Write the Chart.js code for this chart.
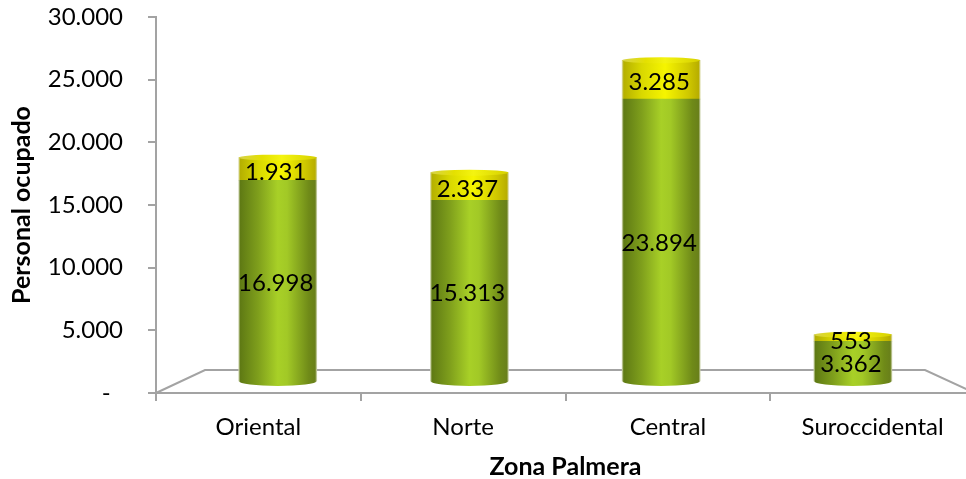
<!DOCTYPE html>
<html><head><meta charset="utf-8">
<style>html,body{margin:0;padding:0;background:#fff;overflow:hidden}#w{width:966px;height:479px;overflow:hidden}</style>
<script src="https://cdn.jsdelivr.net/npm/chart.js@4"></script></head>
<body><div id="w"><canvas id="c" width="975" height="479"></canvas></div>
<script>
const categories = ['Oriental','Norte','Central','Suroccidental'];
const lowerValues = [16998,15313,23894,3362];
const upperValues = [1931,2337,3285,553];
const seriesNames = ['Personal permanente','Personal temporal'];
const yTicks = [0,5000,10000,15000,20000,25000,30000];
const yTitle = 'Personal ocupado';
const xTitle = 'Zona Palmera';

const FONT = 'Lato, Carlito, sans-serif';
const GREY = '#a3a3a3';
const BAR_W = 78, RY = 5;
const fmt = v => v === 0 ? '-  ' : String(v).replace(/\B(?=(\d{3})+$)/g, '.');

function grad(ctx, x, w, stops){
  const g = ctx.createLinearGradient(x - w/2, 0, x + w/2, 0);
  stops.forEach(s => g.addColorStop(s[0], s[1]));
  return g;
}
const greenStops = [[0,'#c9d0a8'],[0.02,'#5f7a14'],[0.25,'#7f9f1c'],[0.5,'#a8d027'],[0.62,'#a2c926'],[0.9,'#6f8a18'],[0.98,'#69801a'],[1,'#c9d0a8']];
const yellowStops = [[0,'#d8d8a0'],[0.02,'#b5b000'],[0.25,'#d9d800'],[0.55,'#f6f500'],[0.85,'#cfc800'],[0.98,'#b8ae00'],[1,'#d8d8a0']];
const capStops = [[0,'#d6d24a'],[0.3,'#e4e000'],[0.55,'#f4f410'],[1,'#d6d000']];

function fill(stops){
  return c => {
    const s = c.chart.scales.x2;
    const px = s && c.dataIndex !== undefined ? s.getPixelForValue(c.dataIndex) : NaN;
    if(!Number.isFinite(px)) return stops[3][1];
    return grad(c.chart.ctx, px, BAR_W, stops);
  };
}

const floorPlugin = {
  id:'floor',
  beforeDatasetsDraw(chart){
    const {ctx, chartArea:a} = chart;
    const backY = a.bottom - 23, backL = a.left + 49, backR = a.right - 50;
    ctx.save();
    ctx.strokeStyle = GREY; ctx.lineWidth = 2;
    ctx.beginPath();
    ctx.moveTo(a.left, a.bottom); ctx.lineTo(backL, backY);
    ctx.lineTo(backR, backY); ctx.lineTo(a.right, a.bottom);
    ctx.stroke();
    ctx.restore();
  }
};

const capPlugin = {
  id:'caps',
  afterDatasetsDraw(chart){
    const ctx = chart.ctx;
    const low = chart.getDatasetMeta(0).data, up = chart.getDatasetMeta(1).data;
    ctx.save();
    low.forEach(b => {
      ctx.fillStyle = grad(ctx, b.x, BAR_W, greenStops);
      ctx.beginPath(); ctx.ellipse(b.x, b.base, BAR_W/2, RY, 0, 0, Math.PI); ctx.fill();
    });
    up.forEach(b => {
      ctx.fillStyle = grad(ctx, b.x, BAR_W, capStops);
      ctx.beginPath(); ctx.ellipse(b.x, b.y, BAR_W/2, RY-2, 0, 0, Math.PI*2); ctx.fill();
    });
    ctx.fillStyle = '#000';
    ctx.font = '24px ' + FONT;
    ctx.textAlign = 'center'; ctx.textBaseline = 'middle';
    [low, up].forEach((bars, d) => bars.forEach((b,i) => {
      const v = (d ? upperValues : lowerValues)[i];
      ctx.fillText(fmt(v), b.x - 2, (b.y + b.base)/2 + 3);
    }));
    ctx.restore();
  }
};

const toPoints = arr => arr.map((v,i) => ({x:i, y:v}));

new Chart(document.getElementById('c'), {
  type:'bar',
  data:{
    labels:categories,
    datasets:[
      {label:seriesNames[0], data:toPoints(lowerValues), xAxisID:'x2', yAxisID:'y2', backgroundColor:fill(greenStops), barThickness:BAR_W, borderWidth:0},
      {label:seriesNames[1], data:toPoints(upperValues), xAxisID:'x2', yAxisID:'y2', backgroundColor:fill(yellowStops), barThickness:BAR_W, borderWidth:0}
    ]
  },
  options:{
    responsive:false, animation:false, devicePixelRatio:1,
    layout:{padding:{top:17,right:0,left:0,bottom:0}},
    plugins:{legend:{display:false},tooltip:{enabled:false}},
    scales:{
      x:{type:'category',position:'bottom',offset:true,
         grid:{display:true,offset:true,drawOnChartArea:false,color:GREY,lineWidth:2,tickLength:8},
         border:{color:GREY,width:2},
         ticks:{color:'#000',font:{family:FONT,size:24},padding:12,maxRotation:0},
         title:{display:true,text:xTitle,color:'#000',font:{family:FONT,size:25,weight:'bold'},padding:{top:8,bottom:-3}},
         afterFit(s){s.height=86;s.paddingLeft=0;s.paddingRight=0;}},
      y:{type:'linear',position:'left',min:0,max:30000,
         afterBuildTicks(s){s.ticks=yTicks.map(v=>({value:v}));},
         grid:{display:true,drawOnChartArea:false,color:GREY,lineWidth:2,tickLength:8},
         border:{color:GREY,width:2},
         ticks:{color:'#000',font:{family:FONT,size:24},padding:25,callback:v=>fmt(v)},
         title:{display:true,text:yTitle,color:'#000',font:{family:FONT,size:25,weight:'bold'},padding:{top:7,bottom:0}},
         afterFit(s){s.width=156;s.paddingTop=0;s.paddingBottom=0;}},
      x2:{type:'linear',display:false,stacked:true,min:-0.635,max:3.637,offset:false},
      y2:{type:'linear',display:false,stacked:true,min:-1017,max:30847}
    }
  },
  plugins:[floorPlugin,capPlugin]
});
</script></body></html>
